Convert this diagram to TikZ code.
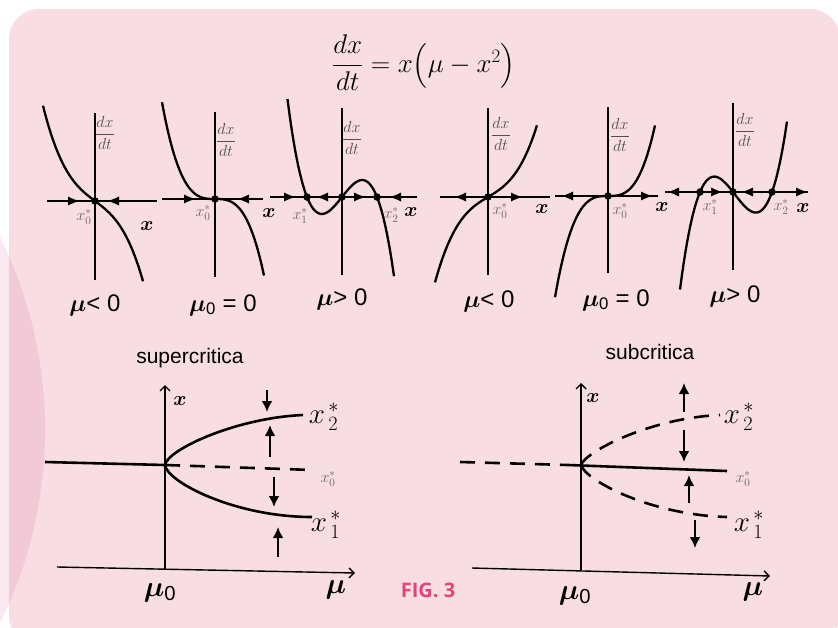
\documentclass[tikz,border=0pt]{standalone}
\usepackage{fix-cm}
\usepackage{amsmath}
\usepackage{fontspec}
\setsansfont{Liberation Sans}
\newfontfamily\figfont{Open Sans}
\usepackage{bm}
\usetikzlibrary{arrows.meta}

\definecolor{boxpink}{HTML}{F8DDE2}
\definecolor{circpink}{HTML}{F2C9D6}
\definecolor{palepink}{HTML}{FAE7EF}
\definecolor{dxgrey}{HTML}{505050}
\definecolor{rootgrey}{HTML}{6A6A6A}
\definecolor{figpink}{HTML}{E0457B}

\begin{document}
\begin{tikzpicture}[x=1pt,y=-1pt,
    axis/.style={line width=1.3pt},
    curve/.style={line width=2.3pt},
    flow/.style={-{Latex[length=11pt,width=9pt]}},
    fixpt/.style={circle,fill=black,inner sep=0pt,minimum size=7.5pt},
    branch/.style={line width=2.6pt},
    unstable/.style={line width=2.6pt,dash pattern=on 15pt off 10pt},
    push/.style={line width=2.8pt,-{Latex[length=11pt,width=11pt]}},
    bigaxis/.style={line width=1.4pt,-{Straight Barb[length=5pt,width=10pt]}},
    dxdt/.style={text=dxgrey,inner sep=0pt,font=\fontsize{16}{19}\selectfont},
    rootlab/.style={text=rootgrey,inner sep=0pt,font=\fontsize{16}{19}\selectfont},
    xlab/.style={inner sep=0pt,font=\fontsize{20}{24}\selectfont},
    mulab/.style={inner sep=0pt,font=\fontsize{24}{28}\selectfont},
    bigroot/.style={inner sep=0pt,font=\fontsize{29}{34}\selectfont},
    kind/.style={inner sep=0pt,font=\sffamily\fontsize{21}{25}\selectfont}]

  % --- background: white page, pink card, the large disc on the left ---
  \clip (0,0) rectangle (838,627);
  \fill[white] (0,0) rectangle (838,627);
  \fill[palepink] (-389,430) circle[radius=434pt];
  \fill[boxpink,rounded corners=30pt] (9,9) rectangle (840,645);
  \begin{scope}
    \clip[rounded corners=30pt] (9,9) rectangle (840,645);
    \fill[circpink] (-389,430) circle[radius=434pt];
  \end{scope}

  % --- the equation ---
  \node[inner sep=0pt,font=\fontsize{27}{32}\selectfont] (eq) at (424,63)
    {$\dfrac{dx}{dt} = x\Bigl(\mu - x^{2}\Bigr)$};

  % --- phase lines, dx/dt = x(mu - x^2) ---
  \begin{scope}[shift={(95,201)},x=10pt,y=10pt]      % mu < 0
    \draw[axis] (-4.8,0) -- (6.2,0);
    \draw[axis] (0,-7.9) -- (0,8.8);
    \draw[curve] plot[domain=-5.2:4.8,samples=40,smooth] (\x,{-0.04*\x*\x*\x-0.75*\x});
    \draw[flow] (-2.8,0) -- (-1.6,0);
    \draw[flow] (2.5,0) -- (1.3,0);
    \node[fixpt] (a0) at (0,0) {};
  \end{scope}
  \begin{scope}[shift={(215,199)},x=10pt,y=10pt]     % mu = 0
    \draw[axis] (-5.3,0) -- (4.8,0);
    \draw[axis] (0,-7.8) -- (0,8.7);
    \draw[curve] plot[domain=-5.3:4.9,samples=40,smooth] (\x,{-0.065*\x*\x*\x});
    \draw[flow] (-3.2,0) -- (-2.0,0);
    \draw[flow] (3.5,0) -- (2.3,0);
    \node[fixpt] (b0) at (0,0) {};
  \end{scope}
  \begin{scope}[shift={(342,197)},x=10pt,y=10pt]     % mu > 0
    \draw[axis] (-7.2,0) -- (7.5,0);
    \draw[axis] (0,-7.8) -- (0,8.9);
    \draw[curve] plot[domain=-5.45:5.2,samples=50,smooth] (\x,{-0.103*\x*\x*\x+1.262*\x});
    \draw[flow] (-5.9,0) -- (-4.7,0);
    \draw[flow] (-1.3,0) -- (-2.5,0);
    \draw[flow] (1.1,0) -- (2.3,0);
    \draw[flow] (6.0,0) -- (4.8,0);
    \node[fixpt] (c1) at (-3.5,0) {};
    \node[fixpt] (c0) at (0,0) {};
    \node[fixpt] (c2) at (3.5,0) {};
  \end{scope}

  % --- phase lines, dx/dt = x(mu + x^2) ---
  \begin{scope}[shift={(488,197)},x=10pt,y=10pt]     % mu < 0
    \draw[axis] (-4.8,0) -- (6.2,0);
    \draw[axis] (0,-7.8) -- (0,8.9);
    \draw[curve] plot[domain=-5.3:4.9,samples=40,smooth] (\x,{0.036*\x*\x*\x+0.6*\x});
    \draw[flow] (-2.1,0) -- (-3.3,0);
    \draw[flow] (2.2,0) -- (3.4,0);
    \node[fixpt] (d0) at (0,0) {};
  \end{scope}
  \begin{scope}[shift={(608,196)},x=10pt,y=10pt]     % mu = 0
    \draw[axis] (-5.3,0) -- (5.0,0);
    \draw[axis] (0,-7.7) -- (0,8.9);
    \draw[curve] plot[domain=-5.3:4.7,samples=40,smooth] (\x,{0.068*\x*\x*\x});
    \draw[flow] (-3.4,0) -- (-4.6,0);
    \draw[flow] (3.2,0) -- (4.4,0);
    \node[fixpt] (e0) at (0,0) {};
  \end{scope}
  \begin{scope}[shift={(733,192)},x=10pt,y=10pt]     % mu > 0
    \draw[axis] (-6.8,0) -- (7.5,0);
    \draw[axis] (0,-7.8) -- (0,8.9);
    \draw[curve] plot[domain=-5.3:5.4,samples=50,smooth] (\x,{0.1*\x*(\x*\x-0.6*\x-12.87)});
    \draw[flow] (-5.3,0) -- (-6.5,0);
    \draw[flow] (-2.3,0) -- (-1.1,0);
    \draw[flow] (2.1,0) -- (0.9,0);
    \draw[flow] (6.2,0) -- (7.4,0);
    \node[fixpt] (f1) at (-3.3,0) {};
    \node[fixpt] (f0) at (0,0) {};
    \node[fixpt] (f2) at (3.9,0) {};
  \end{scope}

  % --- lettering of the phase lines ---
  \node[dxdt] (da) at (105,133) {$\dfrac{dx}{dt}$};
  \node[dxdt] (db) at (226,140) {$\dfrac{dx}{dt}$};
  \node[dxdt] (dc) at (352,138) {$\dfrac{dx}{dt}$};
  \node[dxdt] (dd) at (501,134) {$\dfrac{dx}{dt}$};
  \node[dxdt] (de) at (620,135) {$\dfrac{dx}{dt}$};
  \node[dxdt] (df) at (745,130) {$\dfrac{dx}{dt}$};

  \node[rootlab] (ra0) at (84,217)  {$x_{0}^{*}$};
  \node[rootlab] (rb0) at (203,213) {$x_{0}^{*}$};
  \node[rootlab] (rc1) at (300,216) {$x_{1}^{*}$};
  \node[rootlab] (rc2) at (391,215) {$x_{2}^{*}$};
  \node[rootlab] (rd0) at (500,211) {$x_{0}^{*}$};
  \node[rootlab] (re0) at (620,211) {$x_{0}^{*}$};
  \node[rootlab] (rf1) at (710,207) {$x_{1}^{*}$};
  \node[rootlab] (rf2) at (781,207) {$x_{2}^{*}$};

  \node[xlab] (xa) at (147,226) {$\bm{x}$};
  \node[xlab] (xb) at (269,213) {$\bm{x}$};
  \node[xlab] (xc) at (411,212) {$\bm{x}$};
  \node[xlab] (xd) at (542,209) {$\bm{x}$};
  \node[xlab] (xe) at (662,207) {$\bm{x}$};
  \node[xlab] (xf) at (803,208) {$\bm{x}$};

  \node[mulab] (ma) at (95,305)  {$\bm{\mu}$\sffamily< 0};
  \node[mulab] (mb) at (223,305) {$\bm{\mu}_{\textsf{0}}$\sffamily\ = 0};
  \node[mulab] (mc) at (342,299) {$\bm{\mu}$\sffamily> 0};
  \node[mulab] (md) at (489,301) {$\bm{\mu}$\sffamily< 0};
  \node[mulab] (me) at (616,300) {$\bm{\mu}_{\textsf{0}}$\sffamily\ = 0};
  \node[mulab] (mf) at (735,296) {$\bm{\mu}$\sffamily> 0};

  % --- supercritical diagram ---
  \node[kind] (sup) at (190,358) {supercritica};
  \draw[bigaxis] (57,567) -- (355,573);
  \draw[bigaxis] (165,570) -- (165,385);
  \draw[branch] (45,462) -- (165,465);
  \draw[branch] (165,465) .. controls (167,450) and (235,418) .. (303,415);
  \draw[branch] (165,465) .. controls (167,482) and (235,517) .. (312,517);
  \draw[unstable] (165,465) -- (313,470);
  \draw[push] (267,390) -- (267,412);
  \draw[push] (270,457) -- (270,425);
  \draw[push] (274,477) -- (274,507);
  \draw[push] (278,557) -- (278,527);
  \node[xlab] (supx) at (180,401) {$\bm{x}$};
  \node[bigroot] (sup2) at (324,417) {$x^{\,*}_{\,2}$};
  \node[rootlab] (sup0) at (328,479) {$x_{0}^{*}$};
  \node[bigroot] (sup1) at (326,525) {$x^{\,*}_{\,1}$};
  \node[bigroot] (supm0) at (160,593) {$\bm{\mu}_{\textsf{0}}$};
  \node[bigroot] (supm) at (336,590) {$\bm{\mu}$};

  % --- subcritical diagram ---
  \node[kind] (sub) at (650,352) {subcritica};
  \draw[bigaxis] (472,568) -- (770,576);
  \draw[bigaxis] (581,570) -- (581,383);
  \draw[unstable] (460,462) -- (568,465);
  \draw[branch] (568,465) -- (727,471);
  \draw[unstable] (581,465) .. controls (585,452) and (650,418) .. (720,415);
  \draw[unstable] (581,465) .. controls (585,480) and (650,515) .. (727,517);
  \draw[push] (684,412) -- (684,383);
  \draw[push] (684,430) -- (684,462);
  \draw[push] (689,503) -- (689,475);
  \draw[push] (695,520) -- (695,548);
  \node[xlab] (subx) at (593,398) {$\bm{x}$};
  \node[bigroot] (sub2) at (739,417) {$x^{\,*}_{\,2}$};
  \node[rootlab] (sub0) at (743,479) {$x_{0}^{*}$};
  \node[bigroot] (sub1) at (749,525) {$x^{\,*}_{\,1}$};
  \node[bigroot] (subm0) at (575,596) {$\bm{\mu}_{\textsf{0}}$};
  \node[bigroot] (subm) at (753,592) {$\bm{\mu}$};

  % --- caption ---
  \node[inner sep=0pt,text=figpink,font=\figfont\bfseries\fontsize{20}{24}\selectfont] (fig) at (428,590) {FIG. 3};
\end{tikzpicture}
\end{document}
